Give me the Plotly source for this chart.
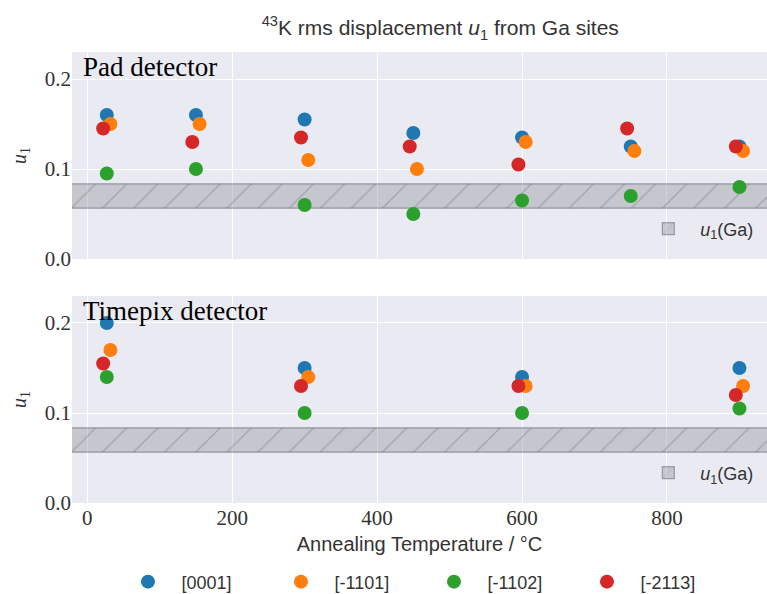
import plotly.graph_objects as go

# ---- data ----
series_names = ["[0001]", "[-1101]", "[-1102]", "[-2113]"]
series_colors = ["#1f77b4", "#ff7f0e", "#2ca02c", "#d62728"]
x_offsets = [0, 5, 0, -5]  # small horizontal dodge per direction

pad_temps = [27, 150, 300, 450, 600, 750, 900]
pad_u1 = {
    "[0001]":  [0.160, 0.160, 0.155, 0.140, 0.135, 0.125, 0.125],
    "[-1101]": [0.150, 0.150, 0.110, 0.100, 0.130, 0.120, 0.120],
    "[-1102]": [0.095, 0.100, 0.060, 0.050, 0.065, 0.070, 0.080],
    "[-2113]": [0.145, 0.130, 0.135, 0.125, 0.105, 0.145, 0.125],
}

tpx_temps = [27, 300, 600, 900]
tpx_u1 = {
    "[0001]":  [0.200, 0.150, 0.140, 0.150],
    "[-1101]": [0.170, 0.140, 0.130, 0.130],
    "[-1102]": [0.140, 0.100, 0.100, 0.105],
    "[-2113]": [0.155, 0.130, 0.130, 0.120],
}

u1_ga_low = 0.0565
u1_ga_high = 0.0835

x_tick_vals = [0, 200, 400, 600, 800]
y_tick_vals = [0.0, 0.1, 0.2]

SERIF = "Liberation Serif"
SANS = "Liberation Sans"
BG = "#EAEAF2"
TXT = "#333333"

fig = go.Figure()

# bands (drawn first, under the points)
for xa, ya, lg in [("x", "y", "legend2"), ("x2", "y2", "legend3")]:
    fig.add_trace(go.Bar(
        x=[460], y=[u1_ga_high - u1_ga_low], base=[u1_ga_low], width=[1400],
        xaxis=xa, yaxis=ya, legend=lg,
        name="<i>u</i><sub>1</sub>(Ga)",
        marker=dict(color="rgba(140,140,150,0.38)",
                    line=dict(color="rgba(100,100,110,0.55)", width=1.2),
                    pattern=dict(shape="/", size=22, solidity=0.06,
                                 fgcolor="rgba(80,80,85,0.6)", fillmode="overlay")),
        showlegend=True, hoverinfo="skip",
    ))

for i, name in enumerate(series_names):
    fig.add_trace(go.Scatter(
        x=[t + x_offsets[i] for t in pad_temps], y=pad_u1[name],
        mode="markers", name=name, legend="legend",
        marker=dict(color=series_colors[i], size=14),
        xaxis="x", yaxis="y", showlegend=True,
    ))
    fig.add_trace(go.Scatter(
        x=[t + x_offsets[i] for t in tpx_temps], y=tpx_u1[name],
        mode="markers", name=name, legend="legend",
        marker=dict(color=series_colors[i], size=14),
        xaxis="x2", yaxis="y2", showlegend=False,
    ))

axis_common = dict(showgrid=True, gridcolor="white", gridwidth=1.2, zeroline=False,
                   showline=False, ticks="", 
                   tickfont=dict(family=SERIF, size=21, color=TXT))

ytitle = dict(text="<i>u</i><sub>1</sub>", font=dict(family=SERIF, size=20, color=TXT), standoff=12)

fig.update_layout(
    width=767, height=594,
    paper_bgcolor="white", plot_bgcolor=BG,
    margin=dict(l=72, r=0, t=52, b=91, autoexpand=False),
    barmode="overlay",
    title=dict(text="<sup>43</sup>K rms displacement <i>u</i><sub>1</sub> from Ga sites",
               x=0.574, xref="container", xanchor="center", y=0.953, yref="container", yanchor="middle",
               font=dict(family=SANS, size=21, color=TXT)),
    xaxis=dict(domain=[0, 1], range=[-21, 938], anchor="y", tickvals=x_tick_vals,
               showticklabels=False, **axis_common),
    yaxis=dict(domain=[0.541, 1], range=[0, 0.23], anchor="x", tickvals=y_tick_vals,
               tickformat=".1f", title=ytitle, **axis_common),
    xaxis2=dict(domain=[0, 1], range=[-21, 938], anchor="y2", tickvals=x_tick_vals,
                title=dict(text="Annealing Temperature / °C", font=dict(family=SANS, size=20, color=TXT),
                           standoff=7),
                **axis_common),
    yaxis2=dict(domain=[0, 0.459], range=[0, 0.23], anchor="x2", tickvals=y_tick_vals,
                tickformat=".1f", title=ytitle, **axis_common),
    legend=dict(orientation="h", x=0.0611, xanchor="left", y=-0.175, yanchor="middle",
                entrywidth=81, entrywidthmode="pixels", itemwidth=57,
                bgcolor="rgba(0,0,0,0)", font=dict(family=SANS, size=18, color=TXT)),
    legend2=dict(xref="container", x=0.99, xanchor="right", yref="container", y=0.6145, yanchor="middle",
                 itemwidth=54,
                 bgcolor="rgba(0,0,0,0)", font=dict(family=SANS, size=18, color=TXT)),
    legend3=dict(xref="container", x=0.99, xanchor="right", yref="container", y=0.2037, yanchor="middle",
                 itemwidth=54,
                 bgcolor="rgba(0,0,0,0)", font=dict(family=SANS, size=18, color=TXT)),
    annotations=[
        dict(text="Pad detector", xref="x domain", yref="y domain", x=0.013, y=1.01,
             xanchor="left", yanchor="top", showarrow=False,
             font=dict(family=SERIF, size=27, color="black")),
        dict(text="Timepix detector", xref="x2 domain", yref="y2 domain", x=0.013, y=1.01,
             xanchor="left", yanchor="top", showarrow=False,
             font=dict(family=SERIF, size=27, color="black")),
    ],
)

fig.write_html("out.html")
